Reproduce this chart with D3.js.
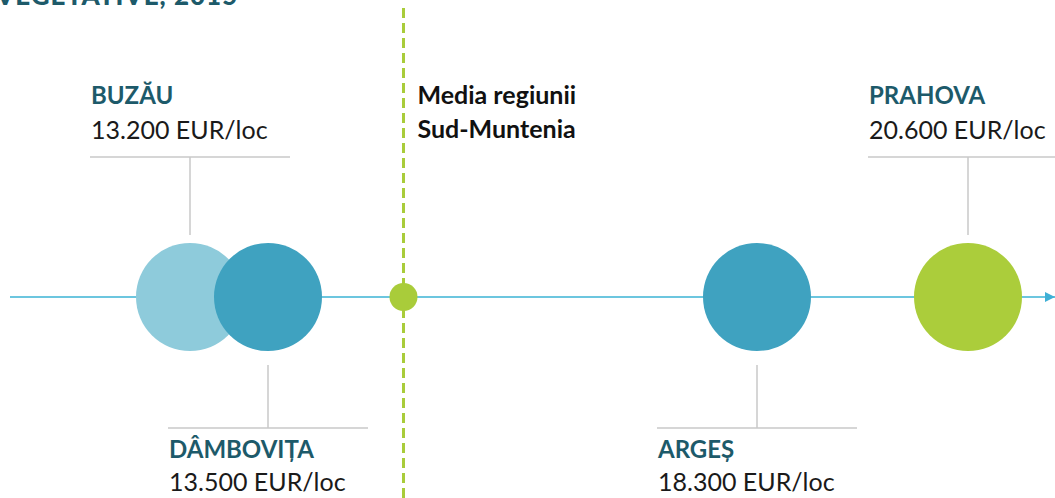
<!DOCTYPE html>
<html>
<head>
<meta charset="utf-8">
<script src="https://cdn.jsdelivr.net/npm/d3@7"></script>
<style>
  body { margin: 0; background: #fff; }
  svg { display: block; font-family: Lato, "Open Sans", sans-serif; }
</style>
</head>
<body>
<svg id="chart"></svg>
<script>
const width = 1055, height = 498;

// judete si PIB/locuitor (EUR/loc)
const counties = ["BUZĂU", "DÂMBOVIȚA", "ARGEȘ", "PRAHOVA"];
const values = [13200, 13500, 18300, 20600];
const sides = ["top", "bottom", "bottom", "top"];
const fills = ["#8ecbdb", "#3fa2c0", "#3fa2c0", "#abcd3b"];
const meanValue = 14830; // estimat, pozitia mediei regiunii
const meanLabel = ["Media regiunii", "Sud-Muntenia"];

const fmt = v => d3.format(",")(v).replace(/,/g, ".") + " EUR/loc";

// scala nu e liniara in original, deci piecewise
const x = d3.scaleLinear()
    .domain([13200, 13500, 18300, 20600])
    .range([190, 268, 757, 968]);

const axisY = 297, r = 54;

let svg = d3.select('#chart')
    .attr('width', width)
    .attr('height', height);

// titlu taiat sus
svg.append("text")
    .attr("x", -4).attr("y", 5)
    .attr("font-size", 26).attr("font-weight", 900)
    .attr("letter-spacing", 1)
    .attr("fill", "#1d5a6a")
    .text("VEGETATIVE, 2015");

svg.append("defs").append("marker")
    .attr("id", "arrow")
    .attr("viewBox", "0 0 10 10")
    .attr("refX", 10).attr("refY", 5)
    .attr("markerWidth", 5).attr("markerHeight", 5)
    .attr("orient", "auto")
  .append("path")
    .attr("d", "M0,0L10,5L0,10Z")
    .attr("fill", "#3fb0d6");

svg.append("line")
    .attr("x1", 10).attr("x2", width)
    .attr("y1", axisY).attr("y2", axisY)
    .attr("stroke", "#6cc6df").attr("stroke-width", 2)
    .attr("marker-end", "url(#arrow)");

// linia mediei
const mx = x(meanValue);
svg.append("line")
    .attr("x1", mx).attr("x2", mx)
    .attr("y1", 8).attr("y2", height)
    .attr("stroke", "#a9cc3a").attr("stroke-width", 3)
    .attr("stroke-dasharray", "10,5");

svg.append("circle")
    .attr("cx", mx).attr("cy", axisY).attr("r", 14)
    .attr("fill", "#a9cc3a");

svg.append("g")
    .selectAll("text")
    .data(meanLabel)
    .join("text")
    .attr("x", mx + 14)
    .attr("y", (d, i) => 104 + i * 34)
    .attr("font-size", 25).attr("font-weight", 700)
    .attr("fill", "#111")
    .text(d => d);

const data = counties.map((c, i) => ({name: c, value: values[i], side: sides[i], fill: fills[i]}));

svg.append("g")
    .selectAll("circle")
    .data(data)
    .join("circle")
    .attr("cx", d => x(d.value))
    .attr("cy", axisY)
    .attr("r", r)
    .attr("fill", d => d.fill);

let ann = svg.append("g")
    .selectAll("g")
    .data(data)
    .join("g")
    .attr("transform", d => `translate(${x(d.value)},0)`);

ann.append("line")
    .attr("x1", -100).attr("x2", 100)
    .attr("y1", d => d.side == "top" ? 157 : 428)
    .attr("y2", d => d.side == "top" ? 157 : 428)
    .attr("stroke", "#c8c8c8").attr("stroke-width", 1.5);

ann.append("line")
    .attr("x1", 0).attr("x2", 0)
    .attr("y1", d => d.side == "top" ? 157 : axisY + r + 14)
    .attr("y2", d => d.side == "top" ? axisY - r - 8 : 428)
    .attr("stroke", "#c8c8c8").attr("stroke-width", 1.5);

ann.append("text")
    .attr("x", -99)
    .attr("y", d => d.side == "top" ? 104 : 458)
    .attr("font-size", 24).attr("font-weight", 700)
    .attr("fill", "#1d5a6a")
    .text(d => d.name);

ann.append("text")
    .attr("x", -99)
    .attr("y", d => d.side == "top" ? 139 : 491)
    .attr("font-size", 25)
    .attr("fill", "#1a1a1a")
    .text(d => fmt(d.value));
</script>
</body>
</html>
